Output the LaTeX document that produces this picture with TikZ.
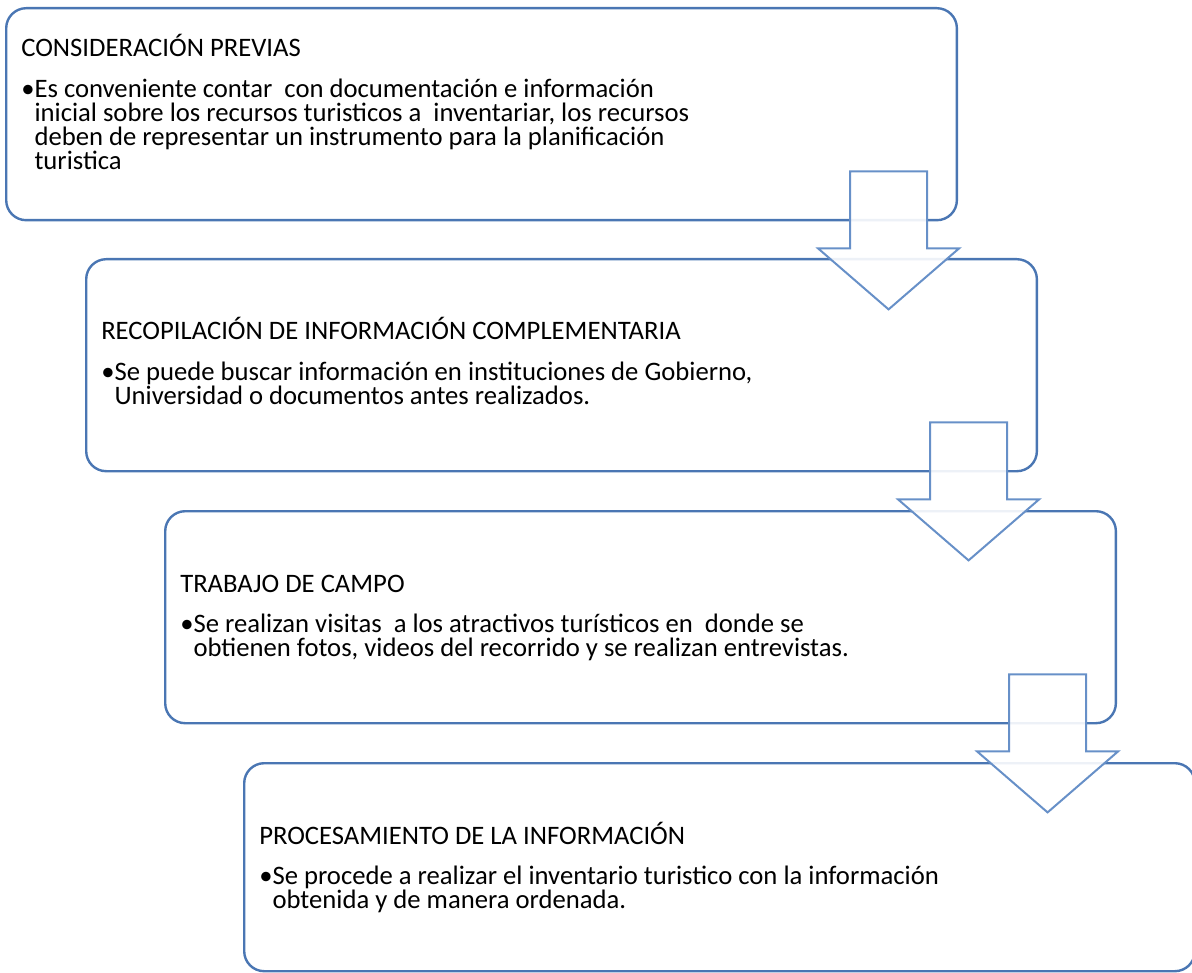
\documentclass[tikz,border=0pt]{standalone}
\usepackage{fontspec}
\setmainfont{Carlito}
\usetikzlibrary{positioning,calc}
\definecolor{borde}{HTML}{4A76B3}
\definecolor{flechaazul}{HTML}{6790C8}

\begin{document}
\begin{tikzpicture}[x=0.75pt,y=-0.75pt,
  caja/.style={draw=borde,line width=1.8pt,rounded corners=15pt,minimum width=713pt,minimum height=159pt,inner sep=0pt,anchor=north west},
  titulo/.style={font=\fontsize{20}{18}\selectfont,inner sep=0pt,anchor=base west},
  lista/.style={font=\fontsize{20}{18}\selectfont,inner sep=0pt,anchor=base west,align=left},
  flecha/.style={draw=flechaazul,line width=1.5pt,fill=white,fill opacity=0.9,line join=miter}]
\useasboundingbox (0,0) rectangle (1192,973);
% cajas
\node[caja] (c1) at (5,7) {};
\node[caja] (c2) at (85,258) {};
\node[caja] (c3) at (164,510) {};
\node[caja,minimum height=156pt] (c4) at (243,762) {};
% textos (la base de cada lista es su ultima linea)
\node[titulo] (t1) at ($(c1.north west)+(16,50)$) {CONSIDERACIÓN PREVIAS};
\node[lista] (l1) at ($(t1.base west)+(0,112.7)$) {•Es conveniente contar~ con documentación e información\\
  \hphantom{•}inicial sobre los recursos turisticos a~ inventariar, los recursos\\
  \hphantom{•}deben de representar un instrumento para la planificación\\
  \hphantom{•}turistica};
\node[titulo] (t2) at ($(c2.north west)+(16,82)$) {RECOPILACIÓN DE INFORMACIÓN COMPLEMENTARIA};
\node[lista] (l2) at ($(t2.base west)+(0,64.7)$) {•Se puede buscar información en instituciones de Gobierno,\\
  \hphantom{•}Universidad o documentos antes realizados.};
\node[titulo] (t3) at ($(c3.north west)+(16,82)$) {TRABAJO DE CAMPO};
\node[lista] (l3) at ($(t3.base west)+(0,64.7)$) {•Se realizan visitas~ a los atractivos turísticos en~ donde se\\
  \hphantom{•}obtienen fotos, videos del recorrido y se realizan entrevistas.};
\node[titulo] (t4) at ($(c4.north west)+(16,82)$) {PROCESAMIENTO DE LA INFORMACIÓN};
\node[lista] (l4) at ($(t4.base west)+(0,64.7)$) {•Se procede a realizar el inventario turistico con la información\\
  \hphantom{•}obtenida y de manera ordenada.};
% flechas entre cajas
\foreach \c in {c1,c2,c3}
  \draw[flecha] ($(\c.south east)+(-108,-50)$) -- ++(77,0) -- ++(0,77) -- ++(32,0)
    -- ++(-70.5,61) -- ++(-70.5,-61) -- ++(32,0) -- cycle;
\end{tikzpicture}
\end{document}
